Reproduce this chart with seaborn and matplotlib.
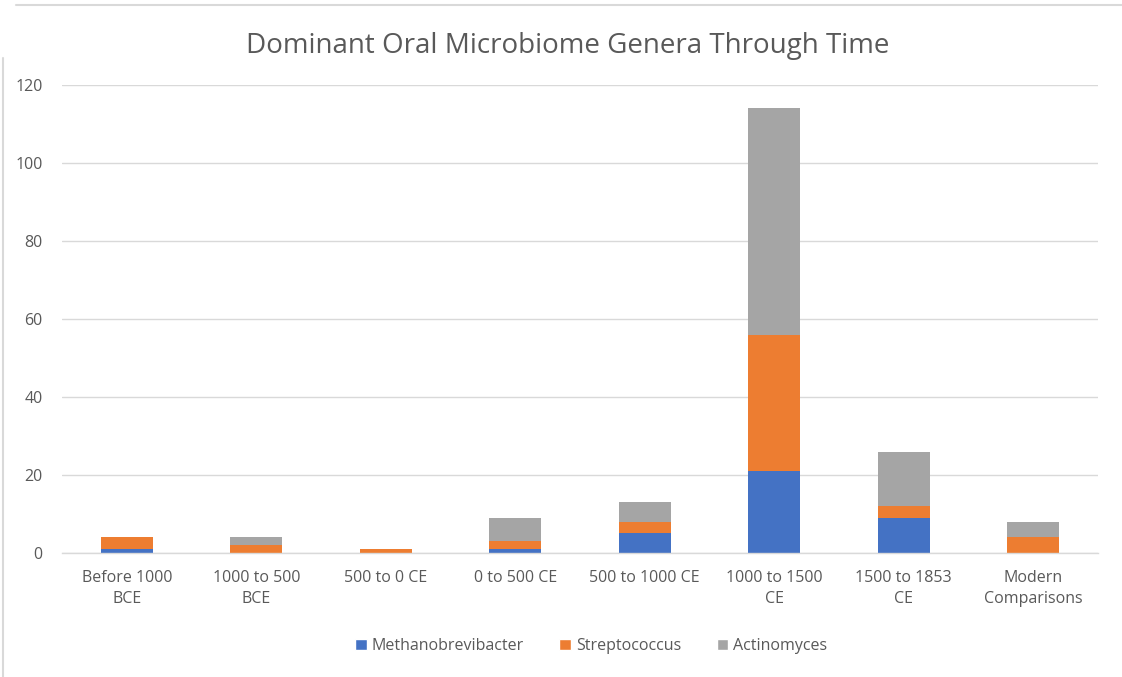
import matplotlib
matplotlib.use("Agg")
import matplotlib.pyplot as plt
from matplotlib.lines import Line2D
from matplotlib.patches import Patch
import seaborn as sns
import numpy as np
import pandas as pd

categories = ["Before 1000\nBCE", "1000 to 500\nBCE", "500 to 0 CE", "0 to 500 CE",
              "500 to 1000 CE", "1000 to 1500\nCE", "1500 to 1853\nCE", "Modern\nComparisons"]
methanobrevibacter = [1, 0, 0, 1, 5, 21, 9, 0]
streptococcus = [3, 2, 1, 2, 3, 35, 3, 4]
actinomyces = [0, 2, 0, 6, 5, 58, 14, 4]
series_names = ["Methanobrevibacter", "Streptococcus", "Actinomyces"]
colors = ["#4472C4", "#ED7D31", "#A5A5A5"]
yticks = [0, 20, 40, 60, 80, 100, 120]

sns.set_theme(style="white")
plt.rcParams['font.family'] = ['Open Sans', 'DejaVu Sans']

fig = plt.figure(figsize=(11.22, 6.77), dpi=100)
ax = fig.add_axes([0.0553, 0.1832, 0.9233, 0.6912])

df = pd.DataFrame({"cat": categories, "m": methanobrevibacter,
                   "s": streptococcus, "a": actinomyces})
bottom = np.zeros(len(categories))
for col, name, c in zip(["m", "s", "a"], series_names, colors):
    sns.barplot(data=df, x="cat", y=col, color=c, width=0.4, bottom=bottom,
                ax=ax, saturation=1, linewidth=0, label=name)
    bottom = bottom + df[col].values

ax.set_ylim(0, 120)
ax.set_xlim(-0.5, len(categories) - 0.5)
ax.set_yticks(yticks)
ax.yaxis.grid(True, color="#D9D9D9", linewidth=1)
ax.set_axisbelow(True)
for s in ["top", "right", "left"]:
    ax.spines[s].set_visible(False)
ax.spines["bottom"].set_color("#D9D9D9")
ax.spines["bottom"].set_linewidth(1)
ax.tick_params(axis="both", length=0, colors="#595959", labelsize=11.5)
ax.tick_params(axis="y", pad=14)
ax.tick_params(axis="x", pad=12)
for lbl in ax.get_xticklabels():
    lbl.set_linespacing(1.45)
ax.set_xlabel("")
ax.set_ylabel("")
if ax.get_legend():
    ax.get_legend().remove()

fig.text(0.506, 1 - 46/677, "Dominant Oral Microbiome Genera Through Time",
         ha="center", va="center", fontsize=20, color="#595959")

handles = [Patch(facecolor=c, label=n) for c, n in zip(colors, series_names)]
fig.legend(handles=handles, loc="center", bbox_to_anchor=(0.527, 1 - 646/677), ncol=3,
           frameon=False, fontsize=11.5, labelcolor="#595959", handlelength=0.75,
           handleheight=0.75, handletextpad=0.3, columnspacing=2.2)

fig.add_artist(Line2D([16/1122, 1], [1 - 5/677, 1 - 5/677], color="#D9D9D9", lw=1.5,
                      transform=fig.transFigure))
fig.add_artist(Line2D([3/1122, 3/1122], [0, 1 - 58/677], color="#D9D9D9", lw=1.5,
                      transform=fig.transFigure))

fig.savefig("out.png", dpi=100)
